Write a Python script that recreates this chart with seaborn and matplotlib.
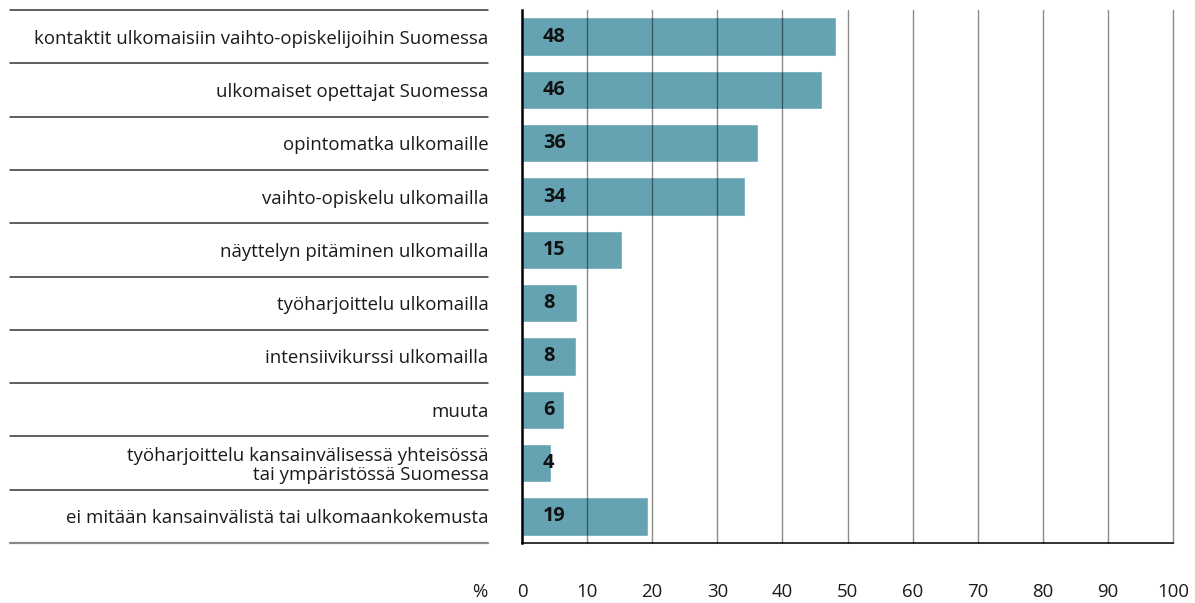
import matplotlib
matplotlib.use("Agg")
import matplotlib.pyplot as plt
import matplotlib.transforms as mtrans
import seaborn as sns
import pandas as pd

categories = [
    "kontaktit ulkomaisiin vaihto-opiskelijoihin Suomessa",
    "ulkomaiset opettajat Suomessa",
    "opintomatka ulkomaille",
    "vaihto-opiskelu ulkomailla",
    "näyttelyn pitäminen ulkomailla",
    "työharjoittelu ulkomailla",
    "intensiivikurssi ulkomailla",
    "muuta",
    "työharjoittelu kansainvälisessä yhteisössä\ntai ympäristössä Suomessa",
    "ei mitään kansainvälistä tai ulkomaankokemusta",
]
values = [48.2, 46.1, 36.2, 34.3, 15.3, 8.4, 8.3, 6.4, 4.4, 19.3]
labels = ["48", "46", "36", "34", "15", "8", "8", "6", "4", "19"]
xticks = [0, 10, 20, 30, 40, 50, 60, 70, 80, 90, 100]

sns.set_theme(style="white")
plt.rcParams["font.family"] = ["Open Sans", "DejaVu Sans"]

FS = 13.4
TICKPAD = 29
df = pd.DataFrame({"cat": categories, "val": values})

fig = plt.figure(figsize=(11.95, 6.03), dpi=100)
ax = fig.add_axes([522 / 1195, 1 - 543 / 603, (1173 - 522) / 1195, (543 - 10) / 603])

sns.barplot(data=df, y="cat", x="val", orient="h", color="#65A3B3",
            saturation=1, width=0.72, ax=ax, zorder=1)

ax.set_xlim(0, 100)
ax.set_ylim(len(categories) - 0.5, -0.5)
ax.set_xlabel("")
ax.set_ylabel("")
ax.set_xticks(xticks)
ax.set_xticklabels([str(t) for t in xticks], fontsize=FS, color="#1a1a1a")
ax.tick_params(axis="x", length=0, pad=TICKPAD)
ax.tick_params(axis="y", length=0, pad=24)
for lab in ax.get_yticklabels():
    lab.set_fontsize(FS)
    lab.set_color("#1a1a1a")
    lab.set_multialignment("right")
    lab.set_linespacing(1.1)

# vertical gridlines on top of bars
for t in xticks[1:]:
    ax.axvline(t, color="black", alpha=0.45, lw=1.0, zorder=3, clip_on=False)

for s in ["top", "right"]:
    ax.spines[s].set_visible(False)
ax.spines["left"].set_color("black")
ax.spines["left"].set_linewidth(1.8)
ax.spines["left"].set_zorder(4)
ax.spines["bottom"].set_color("#222222")
ax.spines["bottom"].set_linewidth(1.3)

# value labels
for i, lab in enumerate(labels):
    ax.text(3.2, i, lab, ha="left", va="center", fontsize=14.3,
            fontweight="bold", color="#111111", zorder=5)

# separator lines in the label area
trans = mtrans.blended_transform_factory(fig.transFigure, ax.transData)
n = len(categories)
for k in range(n + 1):
    y = k - 0.5
    col = "#888888" if k == n else "#333333"
    ax.plot([10 / 1195, 488 / 1195], [y, y], transform=trans, color=col,
            lw=1.1 if k < n else 1.6, clip_on=False)

# percent sign, aligned with the tick labels
pct_tr = (mtrans.blended_transform_factory(fig.transFigure, ax.transAxes)
          + mtrans.ScaledTranslation(0, -TICKPAD / 72, fig.dpi_scale_trans))
ax.text(487 / 1195, 0, "%", transform=pct_tr,
        ha="right", va="top", fontsize=FS, color="#1a1a1a")

fig.savefig("out.png", dpi=100)
